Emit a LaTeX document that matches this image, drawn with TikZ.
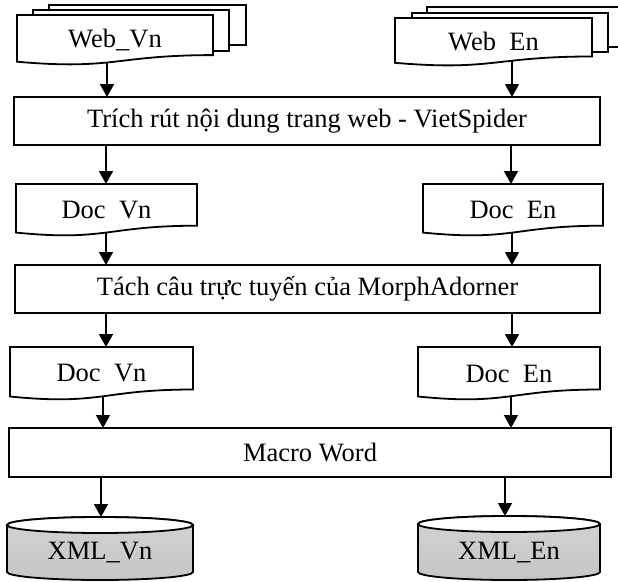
\documentclass[tikz,border=0pt]{standalone}
\usepackage{fontspec}
\setmainfont{Liberation Serif}
\usetikzlibrary{calc,arrows.meta}
\pgfdeclarelayer{arrowlayer}
\pgfdeclarelayer{shapelayer}
\pgfsetlayers{arrowlayer,shapelayer,main}
\tikzset{
  shp/.style={draw=black, line width=1.8pt, fill=white},
  canbody/.style={draw=black, line width=1.8pt},
  lbl/.style={draw=none, inner sep=0pt, outer sep=0pt, font=\fontsize{26.5}{30}\selectfont},
  proc/.style={lbl, draw=black, line width=1.8pt, fill=white},
  arr/.style={line width=1.6pt, -{Triangle[width=14pt,length=13pt]}},
}
\newcommand{\docshape}[1]{%
  \draw[shp] (#1.north west) -- (#1.north east)
    -- ($(#1.north east)!0.802!(#1.south east)$)
    .. controls ($(#1.north)!0.802!(#1.south)$) and ($(#1.north)!1.107!(#1.south)$)
    .. ($(#1.north west)!0.934!(#1.south west)$) -- cycle;}
\newcommand{\canshape}[2]{%
  \draw[canbody, top color=gray!35, middle color=white, bottom color=gray!45]
    ([yshift=-8pt]#1.north west) -- ([yshift=8pt]#1.south west)
    arc[start angle=180, end angle=360, x radius=#2pt, y radius=8pt]
    -- ([yshift=-8pt]#1.north east)
    arc[start angle=0, end angle=180, x radius=#2pt, y radius=8pt] -- cycle;
  \draw[shp] ([yshift=-8pt]#1.north) ellipse [x radius=#2pt, y radius=8pt];}
\begin{document}
\begin{tikzpicture}[x=1pt,y=-1pt]
\useasboundingbox (0,0) rectangle (618,581);
% sources
\node[lbl, minimum width=196pt, minimum height=50pt] (webvn) at (115,40) {Web\_Vn};
\node[lbl, minimum width=197pt, minimum height=48pt] (weben) at (493.5,42) {Web\hspace{.5em}En};
% process 1
\node[proc, minimum width=586pt, minimum height=48pt] (p1) at (307,121) {Trích rút nội dung trang web - VietSpider};
% docs 1
\node[lbl, minimum width=181pt, minimum height=52pt] (docvn1) at (106.5,210) {Doc\hspace{.5em}Vn};
\node[lbl, minimum width=180pt, minimum height=52pt] (docen1) at (513,210) {Doc\hspace{.5em}En};
% process 2
\node[proc, minimum width=585pt, minimum height=48pt] (p2) at (307.5,289) {Tách câu trực tuyến của MorphAdorner};
% docs 2
\node[lbl, minimum width=183pt, minimum height=53pt] (docvn2) at (101.5,373.5) {Doc\hspace{.5em}Vn};
\node[lbl, minimum width=182pt, minimum height=53pt] (docen2) at (509,373.5) {Doc\hspace{.5em}En};
% macro
\node[proc, minimum width=602pt, minimum height=49pt] (macro) at (310,452.5) {Macro Word};
% outputs
\node[lbl, minimum width=186pt, minimum height=63pt] (xmlvn) at (100,548.5) {\raisebox{-4.5pt}[\height][\depth]{XML\_Vn}};
\node[lbl, minimum width=182pt, minimum height=64pt] (xmlen) at (509,548) {\raisebox{-4.5pt}[\height][\depth]{XML\_En}};

% shapes
\begin{pgfonlayer}{shapelayer}
  \draw[shp] (49,5) rectangle (246,45);
  \draw[shp] (33,10) rectangle (229,51);
  \docshape{webvn}
  \draw[shp] (427,7) rectangle (624,47);
  \draw[shp] (412,13) rectangle (608,52);
  \docshape{weben}
  \docshape{docvn1}
  \docshape{docen1}
  \docshape{docvn2}
  \docshape{docen2}
  \canshape{xmlvn}{93}
  \canshape{xmlen}{91}
\end{pgfonlayer}

% connectors
\coordinate (ca) at (107,0);
\coordinate (cb) at (512,0);
\coordinate (cc) at (106,0);
\coordinate (cd) at (511,0);
\coordinate (ce) at (103,0);
\coordinate (cf) at (101,0);
\coordinate (cg) at (505,0);
\begin{pgfonlayer}{arrowlayer}
  \draw[arr] (webvn.center -| ca) -- (p1.north -| ca);
  \draw[arr] (weben.center -| cb) -- (p1.north -| cb);
  \draw[arr] (p1.center -| cc) -- (docvn1.north -| cc);
  \draw[arr] (p1.center -| cd) -- (docen1.north -| cd);
  \draw[arr] (docvn1.center -| cc) -- (p2.north -| cc);
  \draw[arr] (docen1.center -| cb) -- (p2.north -| cb);
  \draw[arr] (p2.center -| cc) -- (docvn2.north -| cc);
  \draw[arr] (p2.center -| cb) -- (docen2.north -| cb);
  \draw[arr] (docvn2.center -| ce) -- (macro.north -| ce);
  \draw[arr] (docen2.center -| cd) -- (macro.north -| cd);
  \draw[arr] (macro.center -| cf) -- (xmlvn.north -| cf);
  \draw[arr] (macro.center -| cg) -- (xmlen.north -| cg);
\end{pgfonlayer}
\end{tikzpicture}
\end{document}
